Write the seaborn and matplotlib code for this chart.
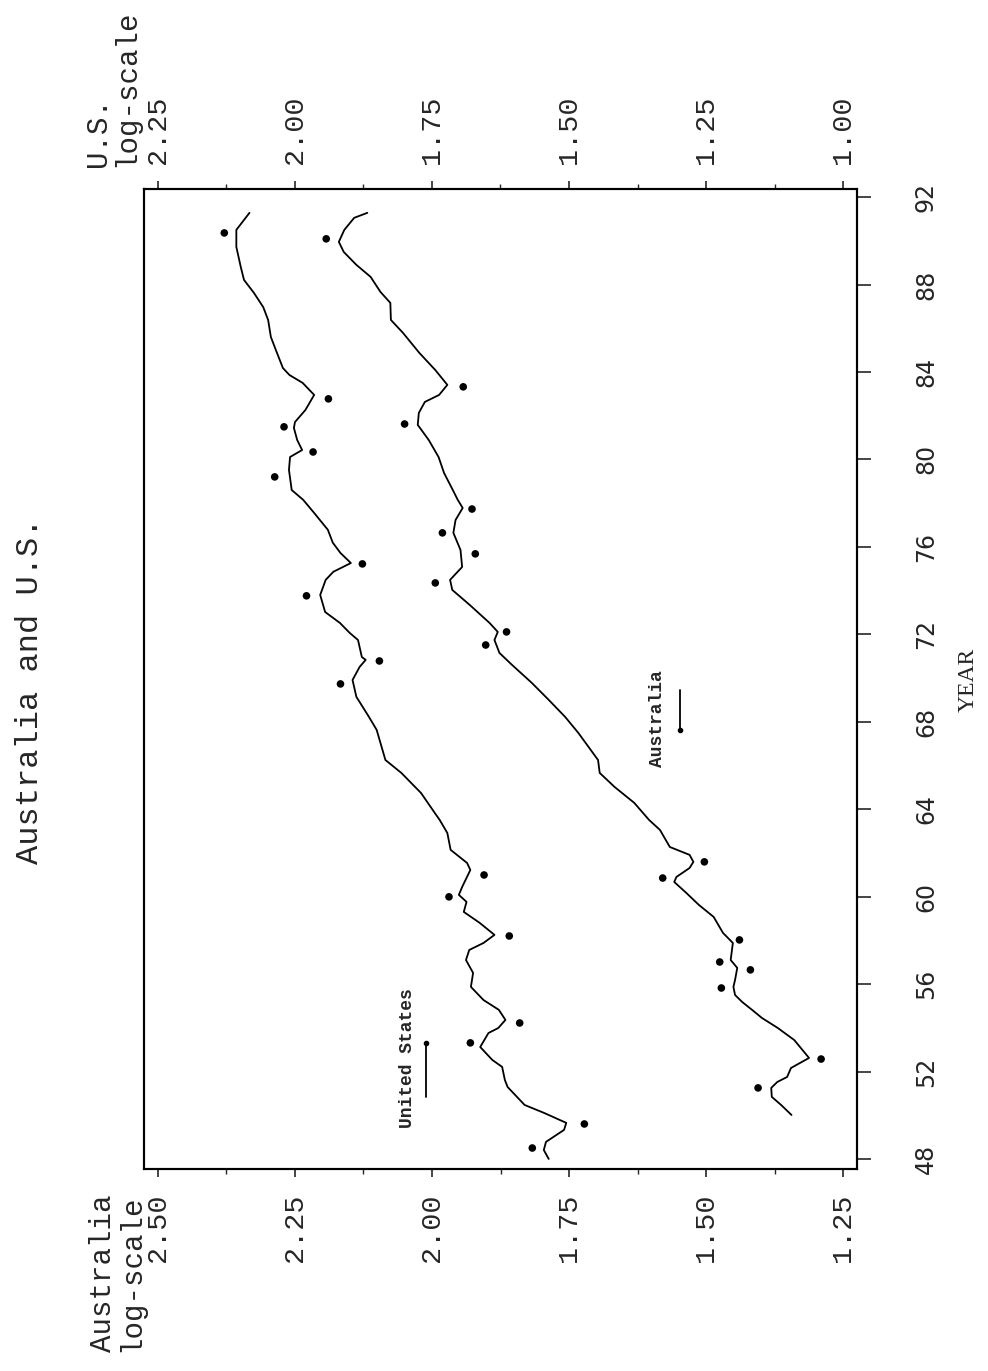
import pandas as pd
import seaborn as sns
import matplotlib.pyplot as plt
from matplotlib.ticker import MultipleLocator

sns.set_theme(style="ticks")
plt.rcParams['font.family'] = ['Liberation Mono', 'DejaVu Sans Mono']

# Australia, smoothed series (left / bottom scale)
aus_line_year = [50.01, 50.47, 50.84, 51.25, 51.52, 51.75, 52.16, 52.62, 53.44, 53.99, 54.45, 54.82,
                 55.18, 55.50, 55.87, 56.19, 56.74, 57.10, 57.88, 58.34, 59.07, 59.62, 60.17, 60.67,
                 60.90, 61.31, 61.59, 61.91, 62.27, 63.05, 63.51, 64.29, 65.02, 65.66, 66.25, 67.49,
                 68.22, 69.00, 69.78, 70.60, 71.15, 71.74, 72.11, 72.52, 73.34, 74.03, 74.49, 75.08,
                 75.86, 76.64, 77.23, 77.78, 78.15, 78.60, 79.38, 80.11, 80.89, 81.58, 82.13, 82.63,
                 82.95, 83.41, 84.09, 84.87, 85.79, 86.38, 87.16, 87.66, 88.35, 88.90, 89.49, 89.95,
                 90.50, 91.05, 91.28]
aus_line_val = [1.344, 1.363, 1.380, 1.381, 1.370, 1.352, 1.345, 1.312, 1.339, 1.369, 1.398, 1.416,
                1.434, 1.447, 1.450, 1.447, 1.443, 1.455, 1.451, 1.469, 1.486, 1.513, 1.536, 1.558,
                1.554, 1.530, 1.523, 1.530, 1.566, 1.584, 1.604, 1.631, 1.667, 1.694, 1.697, 1.733,
                1.757, 1.787, 1.818, 1.854, 1.877, 1.886, 1.880, 1.895, 1.931, 1.963, 1.967, 1.945,
                1.948, 1.961, 1.957, 1.944, 1.953, 1.962, 1.978, 1.988, 2.006, 2.026, 2.024, 2.013,
                1.987, 1.972, 1.994, 2.023, 2.053, 2.075, 2.076, 2.094, 2.112, 2.138, 2.161, 2.170,
                2.160, 2.142, 2.118]

# Australia, annual points
aus_dot_year = [51.25, 52.57, 55.82, 56.65, 57.01, 58.02, 60.85, 61.59, 71.51, 72.11, 74.35,
                75.68, 76.64, 77.73, 81.62, 83.32, 90.09]
aus_dot_val = [1.405, 1.290, 1.472, 1.419, 1.475, 1.439, 1.579, 1.503, 1.902, 1.864, 1.994,
               1.921, 1.981, 1.927, 2.050, 1.943, 2.193]

# United States, smoothed series (right / top scale)
us_line_year = [48.00, 48.41, 48.78, 49.33, 49.65, 50.10, 50.47, 51.29, 51.61, 52.21, 52.53, 53.12,
                53.76, 53.99, 54.36, 54.82, 55.27, 55.87, 56.51, 57.10, 57.56, 57.88, 58.25, 58.80,
                59.30, 59.76, 60.08, 60.44, 61.22, 61.54, 62.14, 62.91, 63.51, 63.83, 64.74, 65.66,
                66.25, 67.63, 68.22, 69.14, 69.91, 70.51, 70.83, 70.96, 71.74, 72.06, 72.52, 73.02,
                73.80, 74.49, 74.86, 75.26, 75.72, 76.19, 76.78, 77.55, 78.15, 78.60, 79.52, 80.11,
                80.43, 80.89, 81.44, 81.71, 82.26, 82.95, 83.50, 83.86, 84.18, 85.01, 85.60, 86.38,
                86.97, 87.62, 88.21, 88.81, 89.72, 90.50, 91.28]
us_line_val = [1.537, 1.546, 1.542, 1.509, 1.505, 1.545, 1.581, 1.612, 1.617, 1.622, 1.640, 1.662,
               1.647, 1.629, 1.616, 1.628, 1.656, 1.679, 1.675, 1.688, 1.682, 1.656, 1.636, 1.663,
               1.692, 1.687, 1.701, 1.695, 1.680, 1.686, 1.716, 1.722, 1.736, 1.745, 1.770, 1.806,
               1.835, 1.851, 1.865, 1.888, 1.895, 1.882, 1.871, 1.878, 1.885, 1.900, 1.918, 1.945,
               1.954, 1.944, 1.930, 1.898, 1.917, 1.931, 1.940, 1.965, 1.985, 2.006, 2.011, 2.009,
               1.987, 1.996, 2.002, 2.000, 1.981, 1.965, 1.986, 2.010, 2.022, 2.035, 2.044, 2.049,
               2.058, 2.075, 2.093, 2.099, 2.107, 2.107, 2.083]

# United States, annual points
us_dot_year = [48.50, 49.60, 53.31, 54.22, 58.20, 59.99, 60.99, 69.73, 70.78, 73.76, 75.22,
               79.20, 80.34, 81.49, 82.77, 90.36]
us_dot_val = [1.567, 1.472, 1.680, 1.590, 1.609, 1.719, 1.655, 1.917, 1.846, 1.979, 1.877,
              2.037, 1.967, 2.020, 1.939, 2.129]

aus_ticks = [2.50, 2.25, 2.00, 1.75, 1.50, 1.25]
us_ticks = [2.25, 2.00, 1.75, 1.50, 1.25, 1.00]
year_ticks = list(range(48, 93, 4))

aus_line = pd.DataFrame({'year': aus_line_year, 'value': aus_line_val})
aus_dots = pd.DataFrame({'year': aus_dot_year, 'value': aus_dot_val})
us_line = pd.DataFrame({'year': us_line_year, 'value': us_line_val})
us_dots = pd.DataFrame({'year': us_dot_year, 'value': us_dot_val})

fig = plt.figure(figsize=(9.88, 13.71), dpi=100)
ax = fig.add_axes([144 / 988, 1 - 1169 / 1371, 713 / 988, 980 / 1371])
ax2 = ax.twiny()

# the page is printed sideways: value runs right-to-left, year runs upward
sns.lineplot(data=aus_line, x='value', y='year', sort=False, estimator=None,
             color='black', lw=1.3, ax=ax)
sns.scatterplot(data=aus_dots, x='value', y='year', color='black', s=30,
                edgecolor='none', ax=ax)
sns.lineplot(data=us_line, x='value', y='year', sort=False, estimator=None,
             color='black', lw=1.3, ax=ax2)
sns.scatterplot(data=us_dots, x='value', y='year', color='black', s=30,
                edgecolor='none', ax=ax2)

ax.set_xlim(2.5255, 1.2245)
ax2.set_xlim(2.2755, 0.9745)
ax.set_ylim(47.54, 92.37)
for a in (ax, ax2):
    a.set_xlabel('')
    a.set_ylabel('')
    for s in a.spines.values():
        s.set_visible(True)
        s.set_linewidth(1.5)
        s.set_color('black')

# bottom: Australia scale
ax.set_xticks(aus_ticks, [f'{t:.2f}' for t in aus_ticks])
ax.xaxis.set_minor_locator(MultipleLocator(0.125))
ax.tick_params(axis='x', which='major', bottom=True, top=False, direction='out',
               length=6, width=1.2, pad=12, labelsize=20.5, labelrotation=90)
ax.tick_params(axis='x', which='minor', bottom=True, top=False, direction='out',
               length=3.5, width=1.0)

# top: U.S. scale
ax2.set_xticks(us_ticks, [f'{t:.2f}' for t in us_ticks])
ax2.xaxis.set_minor_locator(MultipleLocator(0.125))
ax2.tick_params(axis='x', which='major', top=True, bottom=False, direction='out',
                length=6, width=1.2, pad=12, labelsize=20.5, labelrotation=90)
ax2.tick_params(axis='x', which='minor', top=True, bottom=False, direction='out',
                length=3.5, width=1.0)
ax2.tick_params(axis='y', left=False, right=False, labelleft=False, labelright=False)

# right: years
ax.yaxis.tick_right()
ax.set_yticks(year_ticks, [str(y) for y in year_ticks])
ax.tick_params(axis='y', which='both', left=False, labelleft=False, right=True,
               direction='out', length=10, width=1.2, pad=31, labelsize=17,
               labelrotation=90)
for lab in ax.get_yticklabels():
    lab.set_family(['Liberation Sans Narrow', 'DejaVu Sans'])
    lab.set_va('center')

# axis names and title, all rotated with the page
fig.text(145 / 988, 1 - 1195 / 1371, 'Australia\nlog-scale', rotation=90,
         ha='right', va='top', multialignment='right', fontsize=21, linespacing=1.0)
fig.text(140 / 988, 1 - 167 / 1371, 'U.S.\nlog-scale', rotation=90,
         ha='right', va='bottom', multialignment='left', fontsize=21, linespacing=1.0)
fig.text(30 / 988, 1 - 691 / 1371, 'Australia and U.S.', rotation=90,
         ha='center', va='center', fontsize=23)
fig.text(968 / 988, 1 - 680 / 1371, 'YEAR', rotation=90, ha='center', va='center',
         fontsize=17, family=['Liberation Serif', 'DejaVu Serif'])

# in-plot keys
ax.text(0.7195, 0.460, 'Australia', transform=ax.transAxes, rotation=90,
        ha='center', va='center', fontsize=13, fontweight='bold')
ax.plot([0.752, 0.752], [0.489, 0.448], transform=ax.transAxes, color='black', lw=1.3)
ax.plot([0.752], [0.448], transform=ax.transAxes, marker='o', ms=3, color='black')
ax.text(0.369, 0.113, 'United States', transform=ax.transAxes, rotation=90,
        ha='center', va='center', fontsize=13, fontweight='bold')
ax.plot([0.3955, 0.3955], [0.1286, 0.0735], transform=ax.transAxes, color='black', lw=1.3)
ax.plot([0.3955], [0.1286], transform=ax.transAxes, marker='o', ms=3, color='black')

fig.savefig('out.png', dpi=100, facecolor='white')
